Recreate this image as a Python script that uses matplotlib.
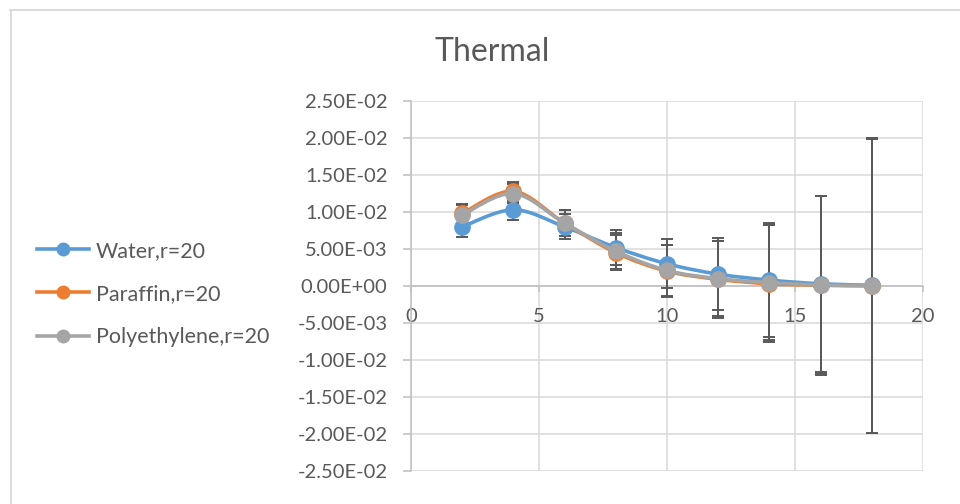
import numpy as np
import matplotlib
matplotlib.use("Agg")
import matplotlib.pyplot as plt
from matplotlib.path import Path
from matplotlib.patches import PathPatch
from matplotlib.lines import Line2D

plt.rcParams['font.family'] = ['Lato', 'DejaVu Sans']

title = "Thermal"
x = [2, 4, 6, 8, 10, 12, 14, 16, 18]
series_names = ["Water,r=20", "Paraffin,r=20", "Polyethylene,r=20"]
water = [0.0080, 0.0103, 0.0080, 0.0052, 0.0030, 0.0016, 0.0008, 0.0003, 0.0001]
paraffin = [0.0098, 0.0128, 0.0085, 0.0045, 0.0020, 0.0009, 0.0003, 0.0001, 0.00003]
poly = [0.0096, 0.0125, 0.0085, 0.0047, 0.0021, 0.0010, 0.00045, 0.00013, 0.00003]
water_err = [0.0014, 0.0014, 0.0017, 0.0024, 0.0033, 0.0049, 0.0077, 0.0119, 0.0199]
paraffin_err = [0.0013, 0.0013, 0.0018, 0.0024, 0.0035, 0.0052, 0.0079, 0.0121, 0.0199]
poly_err = [0.0013, 0.0013, 0.0018, 0.0024, 0.0035, 0.0051, 0.0078, 0.0120, 0.0199]
colors = ["#5B9BD5", "#ED7D31", "#A5A5A5"]
yticks = [-0.025, -0.02, -0.015, -0.01, -0.005, 0.0, 0.005, 0.01, 0.015, 0.02, 0.025]
ytick_labels = ["-2.50E-02", "-2.00E-02", "-1.50E-02", "-1.00E-02", "-5.00E-03",
                "0.00E+00", "5.00E-03", "1.00E-02", "1.50E-02", "2.00E-02", "2.50E-02"]
xticks = [0, 5, 10, 15, 20]

W, H = 960, 504
fig = plt.figure(figsize=(W / 100, H / 100), dpi=100)
ax = fig.add_axes([411 / W, 1 - 471 / H, (923 - 411) / W, (471 - 101) / H])

txt = "#595959"
grid = "#D9D9D9"


def smooth_path(xs, ys):
    pts = np.column_stack([xs, ys]).astype(float)
    n = len(pts)
    verts = [pts[0]]
    codes = [Path.MOVETO]
    for i in range(n - 1):
        p0 = pts[i - 1] if i > 0 else pts[i]
        p1 = pts[i]
        p2 = pts[i + 1]
        p3 = pts[i + 2] if i + 2 < n else pts[i + 1]
        c1 = p1 + (p2 - p0) / 6.0
        c2 = p2 - (p3 - p1) / 6.0
        verts += [c1, c2, p2]
        codes += [Path.CURVE4] * 3
    return Path(verts, codes)


data = [water, paraffin, poly]
errs = [water_err, paraffin_err, poly_err]

for ys, es in zip(data, errs):
    ax.errorbar(x, ys, yerr=es, fmt='none', ecolor=txt, elinewidth=1.4,
                capsize=4, capthick=1.4, zorder=3)

for k, (ys, c) in enumerate(zip(data, colors)):
    ax.add_patch(PathPatch(smooth_path(x, ys), fill=False, edgecolor=c,
                           linewidth=2.6, capstyle='round', zorder=4 + k))
    ax.plot(x, ys, linestyle='none', marker='o', markersize=11,
            markerfacecolor=c, markeredgecolor=c, zorder=4 + k)

ax.set_xlim(0, 20)
ax.set_ylim(-0.025, 0.025)
ax.set_xticks(xticks)
ax.set_xticklabels([str(v) for v in xticks])
ax.set_yticks(yticks)
ax.set_yticklabels(ytick_labels)

ax.grid(True, color=grid, linewidth=1.1, zorder=0)
ax.set_axisbelow(True)
for s in ['top', 'right']:
    ax.spines[s].set_visible(False)
ax.spines['bottom'].set_position(('data', 0))
ax.spines['bottom'].set_color("#BFBFBF")
ax.spines['left'].set_color("#BFBFBF")
ax.spines['bottom'].set_linewidth(1.1)
ax.spines['left'].set_linewidth(1.1)
ax.spines['bottom'].set_zorder(1)
ax.tick_params(axis='y', colors="#BFBFBF", labelcolor=txt, labelsize=14.5,
               length=6, width=1.1, pad=11)
ax.tick_params(axis='x', colors="#BFBFBF", labelcolor=txt, labelsize=14.5,
               length=4, width=1.1, pad=12)

fig.text(492 / W, 1 - 61 / H, title, ha='center', va='baseline',
         fontsize=23, color=txt)

handles = [Line2D([0], [0], color=c, linewidth=2.6, marker='o', markersize=9,
                  markerfacecolor=c, markeredgecolor=c) for c in colors]
leg = fig.legend(handles, series_names, loc='center left',
                 bbox_to_anchor=(28 / W, 1 - 294 / H), frameon=False,
                 fontsize=15.5, labelcolor=txt, handlelength=2.45,
                 handletextpad=0.3, labelspacing=1.08, borderaxespad=0)

fig.add_artist(Line2D([10 / W, 1], [1 - 9.5 / H, 1 - 9.5 / H],
                      color=grid, linewidth=1.3, transform=fig.transFigure))
fig.add_artist(Line2D([10.5 / W, 10.5 / W], [0, 1 - 9.5 / H],
                      color=grid, linewidth=1.3, transform=fig.transFigure))

fig.savefig("out.png", dpi=100, facecolor="white")
